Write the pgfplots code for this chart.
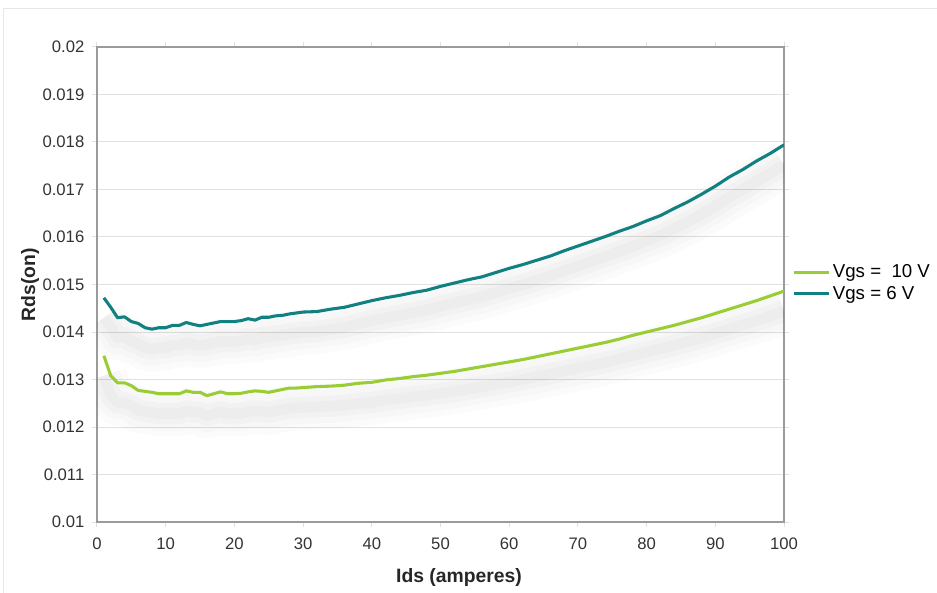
\documentclass[border=0pt]{standalone}
\usepackage{pgfplots}
\pgfplotsset{compat=1.18}
\usepackage{fontspec}
\setmainfont{Liberation Sans}
\definecolor{vgsten}{RGB}{154,204,52}
\definecolor{vgssix}{RGB}{16,128,128}
\definecolor{axisgray}{RGB}{155,155,155}
\definecolor{gridgray}{RGB}{225,225,225}

\pgfplotstableread{
x y
1 0.01472
2 0.01452
3 0.01430
4 0.01432
5 0.01422
6 0.01418
7 0.01409
8 0.01406
9 0.01409
10 0.01409
11 0.01414
12 0.01414
13 0.01420
14 0.01416
15 0.01413
16 0.01416
17 0.01419
18 0.01422
19 0.01422
20 0.01422
21 0.01424
22 0.01428
23 0.01425
24 0.01431
25 0.01431
26 0.01434
27 0.01435
28 0.01438
29 0.01440
30 0.01442
32 0.01443
34 0.01448
36 0.01452
38 0.01459
40 0.01466
42 0.01472
44 0.01477
46 0.01483
48 0.01488
50 0.01496
52 0.01503
54 0.01510
56 0.01516
58 0.01525
60 0.01534
62 0.01542
64 0.01551
66 0.01560
68 0.01571
70 0.01581
72 0.01591
74 0.01601
76 0.01612
78 0.01622
80 0.01634
82 0.01645
84 0.01660
86 0.01674
88 0.01690
90 0.01707
92 0.01726
94 0.01742
96 0.01760
98 0.01776
100 0.01794
}\sixdata

\pgfplotstableread{
x y
1 0.01350
2 0.01308
3 0.01293
4 0.01293
5 0.01287
6 0.01277
7 0.01275
8 0.01273
9 0.01270
10 0.01270
11 0.01270
12 0.01270
13 0.01276
14 0.01273
15 0.01273
16 0.01266
17 0.01270
18 0.01274
19 0.01270
20 0.01270
21 0.01271
22 0.01274
23 0.01276
24 0.01275
25 0.01273
26 0.01276
27 0.01279
28 0.01282
29 0.01282
30 0.01283
32 0.01285
34 0.01286
36 0.01288
38 0.01292
40 0.01294
42 0.01299
44 0.01302
46 0.01306
48 0.01309
50 0.01313
52 0.01317
54 0.01322
56 0.01327
58 0.01332
60 0.01337
62 0.01342
64 0.01348
66 0.01354
68 0.01360
70 0.01366
72 0.01372
74 0.01378
76 0.01385
78 0.01393
80 0.01400
82 0.01407
84 0.01414
86 0.01422
88 0.01430
90 0.01439
92 0.01448
94 0.01457
96 0.01466
98 0.01476
100 0.01486
}\tendata

\begin{document}
\begin{tikzpicture}
\useasboundingbox (-72.75pt,-52.5pt) rectangle (630pt,391.5pt);
\draw[gridgray!80, line width=0.75pt] (-69.75pt,-60pt) |- (640pt,384.75pt);
\begin{axis}[
  at={(0,0)}, anchor=south west,
  scale only axis,
  width=515.25pt, height=356.25pt,
  xmin=0, xmax=100, ymin=0.01, ymax=0.02,
  xtick={0,10,...,100},
  ytick={0.01,0.011,...,0.0205},
  scaled y ticks=false,
  yticklabel style={/pgf/number format/fixed,/pgf/number format/precision=3},
  /pgf/number format/assume math mode=true,
  ticklabel style={font=\fontsize{12.5}{15}\selectfont, text=black!80},
  xticklabel style={yshift=-4pt},
  yticklabel style={xshift=-2pt},
  tick align=outside,
  major tick length=4pt,
  tick style={gridgray, line width=0.75pt},
  axis line style={axisgray, line width=1.6pt},
  ymajorgrids,
  major grid style={gridgray, line width=0.75pt},
  xlabel={Ids (amperes)},
  ylabel={Rds(on)},
  label style={font=\bfseries\fontsize{14.5}{17}\selectfont, text=black!85},
  xlabel style={at={(axis description cs:0.527,-0.116)}, anchor=center},
  ylabel style={at={(axis description cs:-0.0975,0.5)}, anchor=center},
  legend style={at={(1.012,0.503)}, anchor=west, draw=none, fill=none,
    font=\fontsize{14}{17}\selectfont, row sep=1pt,
    inner xsep=0pt, inner ysep=0pt},
  legend cell align=left,
  legend image code/.code={\draw[#1] (0pt,0pt) -- (26pt,0pt);},
]
% soft drop shadows
\addplot[forget plot, black, line width=34pt, opacity=0.014, yshift=-15pt, line join=round] table {\sixdata};
\addplot[forget plot, black, line width=25pt, opacity=0.016, yshift=-15pt, line join=round] table {\sixdata};
\addplot[forget plot, black, line width=16pt, opacity=0.018, yshift=-15pt, line join=round] table {\sixdata};
\addplot[forget plot, black, line width=8pt, opacity=0.02, yshift=-15pt, line join=round] table {\sixdata};
\addplot[forget plot, black, line width=34pt, opacity=0.014, yshift=-15pt, line join=round] table {\tendata};
\addplot[forget plot, black, line width=25pt, opacity=0.016, yshift=-15pt, line join=round] table {\tendata};
\addplot[forget plot, black, line width=16pt, opacity=0.018, yshift=-15pt, line join=round] table {\tendata};
\addplot[forget plot, black, line width=8pt, opacity=0.02, yshift=-15pt, line join=round] table {\tendata};
\addplot[vgsten, line width=2.3pt, line join=round] table {\tendata};
\addlegendentry{Vgs = \ 10 V}
\addplot[vgssix, line width=2.3pt, line join=round] table {\sixdata};
\addlegendentry{Vgs = 6 V}
\end{axis}
\end{tikzpicture}
\end{document}
